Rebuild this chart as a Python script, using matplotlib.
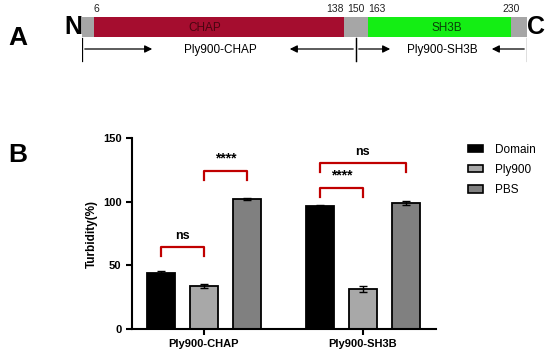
import numpy as np
import matplotlib.pyplot as plt
from matplotlib.patches import Patch

plt.rcParams['font.family'] = ['Liberation Sans Narrow', 'Liberation Sans', 'DejaVu Sans']

# panel A: domain map (residue numbers)
protein_len = 238
domain_names = ["CHAP", "SH3B"]
domain_start = [6, 163]
domain_end = [138, 230]
domain_colors = ["#a50d2f", "#14ee14"]
domain_text_colors = ["#4a0510", "#0a3f0a"]
res_labels = [6, 138, 150, 163, 230]
construct_names = ["Ply900-CHAP", "Ply900-SH3B"]
construct_start = [0, 150]
construct_end = [150, protein_len]

# panel B: turbidity
groups = ["Ply900-CHAP", "Ply900-SH3B"]
series = ["Domain", "Ply900", "PBS"]
means = {"Domain": [43.7, 96.6], "Ply900": [33.8, 31.2], "PBS": [102.1, 99.0]}
errs = {"Domain": [1.8, 1.0], "Ply900": [1.3, 2.2], "PBS": [0.9, 1.8]}
colors = {"Domain": "#000000", "Ply900": "#a8a8a8", "PBS": "#808080"}
# (group, bar_i, bar_j, y, label)
sig = [(0, 0, 1, 64.6, "ns"), (0, 1, 2, 124.3, "****"),
       (1, 0, 1, 111.0, "****"), (1, 0, 2, 130.6, "ns")]

fig = plt.figure(figsize=(5.5, 3.57), dpi=100)

# ---- panel A ----
# the schematic is not drawn to scale, so residues go through a piecewise scale
knots_res = [0, 6, 138, 150, 163, 230, protein_len]
knots_pos = [82, 94, 344, 356, 368, 511, 527]
fwd = lambda v: np.interp(v, knots_res, knots_pos)
inv = lambda v: np.interp(v, knots_pos, knots_res)

axA = fig.add_axes([82 / 550, 1 - 70 / 357, 445 / 550, 70 / 357])
axA.set_xscale('function', functions=(fwd, inv))
axA.set_xlim(0, protein_len)
axA.set_ylim(70, 0)
axA.axis('off')

axA.barh(27, protein_len, left=0, height=20, color="#a6a6a6")
# label centres inside the bars (slightly off-centre in the original)
domain_text_x = [64.6, 200]
for name, s, e, c, tc, tx in zip(domain_names, domain_start, domain_end,
                                 domain_colors, domain_text_colors, domain_text_x):
    axA.barh(27, e - s, left=s, height=20, color=c)
    axA.text(tx, 28, name, ha='center', va='center', fontsize=8.5, color=tc)

label_ha = ['left', 'right', 'center', 'left', 'center']
for r, ha in zip(res_labels, label_ha):
    axA.text(r, 14, str(r), ha=ha, va='bottom', fontsize=7.5, color='#222222')

axA.text(-1, 27, "N", ha='right', va='center', fontsize=18, fontweight='bold', clip_on=False)
axA.text(protein_len + 2.5, 27, "C", ha='left', va='center', fontsize=18, fontweight='bold', clip_on=False)

arr = dict(arrowstyle='-|>', color='black', lw=0.9, mutation_scale=11)
construct_text_x = [72.5, 197.7]
tip_right = [38.2, 174.7]
tip_left = [107.9, 219.7]
for name, s, e, tx, tr, tl in zip(construct_names, construct_start, construct_end,
                                  construct_text_x, tip_right, tip_left):
    axA.text(tx, 50, name, ha='center', va='center', fontsize=8.5)
    for xv in (s, e):
        axA.plot([xv, xv], [38, 61], color='black', lw=0.9)
    axA.annotate("", xy=(tr, 49), xytext=(s, 49), arrowprops=arr)
    axA.annotate("", xy=(tl, 49), xytext=(e, 49), arrowprops=arr)

fig.text(8 / 550, 1 - 38 / 357, "A", fontsize=19, fontweight='bold', va='center')
fig.text(8 / 550, 1 - 155 / 357, "B", fontsize=19, fontweight='bold', va='center')

# ---- panel B ----
ax = fig.add_axes([132 / 550, 1 - 329 / 357, 304 / 550, 191 / 357])
x = np.arange(len(groups))
off = 0.27
w = 0.176
for i, s in enumerate(series):
    ax.bar(x + (i - 1) * off, means[s], w, color=colors[s], edgecolor='black', lw=1.3,
           yerr=errs[s], error_kw=dict(ecolor='black', elinewidth=1, capsize=3, capthick=1),
           label=s, zorder=2)

for g, i, j, y, lab in sig:
    x1 = x[g] + (i - 1) * off
    x2 = x[g] + (j - 1) * off
    ax.plot([x1, x1, x2, x2], [y - 7.5, y, y, y - 7.5], color='#c00000', lw=1.6, clip_on=False)
    ax.text((x1 + x2) / 2, y + 4, lab, ha='center', va='bottom', fontsize=9 if lab == "ns" else 10,
            fontweight='bold', clip_on=False)

ax.set_xlim(-0.453, 1.461)
ax.set_ylim(0, 150)
ax.set_yticks([0, 50, 100, 150])
ax.set_xticks(x)
ax.set_xticklabels(groups)
ax.set_ylabel("Turbidity(%)", fontsize=8.5, fontweight='bold', labelpad=4)
for sp in ['top', 'right']:
    ax.spines[sp].set_visible(False)
for sp in ['left', 'bottom']:
    ax.spines[sp].set_linewidth(1.5)
ax.tick_params(width=1.5, length=4, labelsize=8)
for t in ax.get_xticklabels() + ax.get_yticklabels():
    t.set_fontweight('bold')

handles = [Patch(facecolor=colors[s], edgecolor='black', lw=1.2) for s in series]
fig.legend(handles, series, loc='upper left', bbox_to_anchor=(457 / 550, 1 - 133 / 357),
           frameon=False, fontsize=8.5, handlelength=1.3, handleheight=0.6,
           labelspacing=0.7, handletextpad=1.0)

fig.savefig("out.png", dpi=100)
